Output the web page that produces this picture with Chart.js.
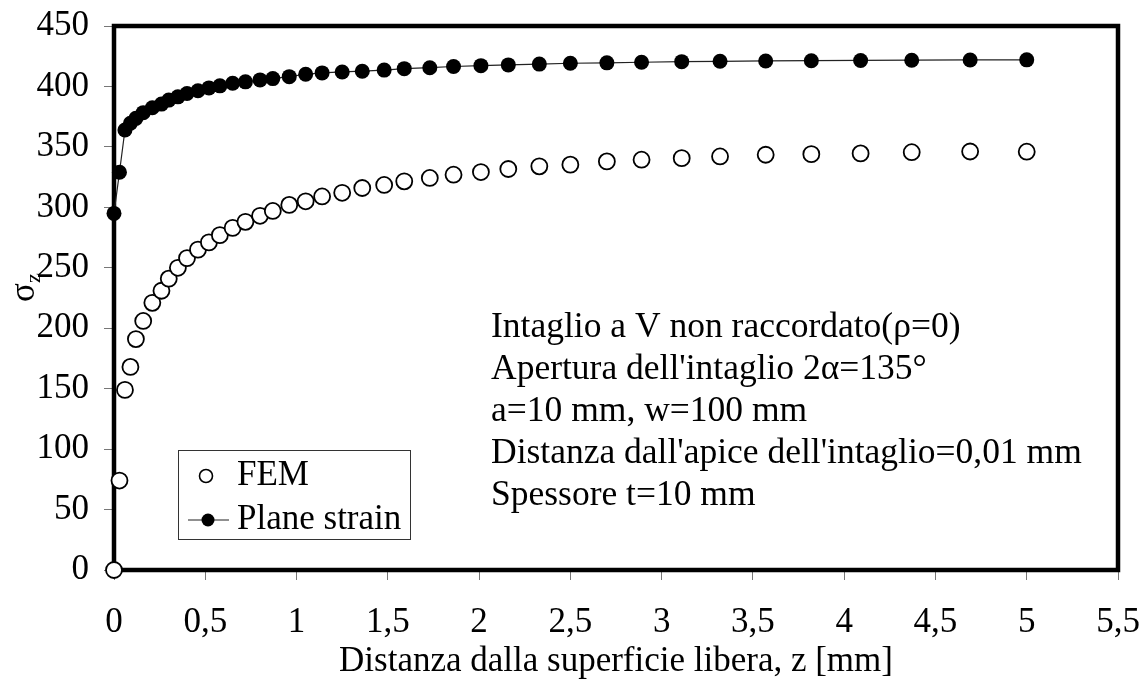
<!DOCTYPE html>
<html>
<head>
<meta charset="utf-8">
<script src="https://cdn.jsdelivr.net/npm/chart.js@4.4.1/dist/chart.umd.min.js"></script>
<style>
  html, body { margin: 0; padding: 0; background: #fff; }
  #wrap { width: 1142px; height: 679px; }
</style>
</head>
<body>
<div id="wrap"><canvas id="chart" width="1142" height="679"></canvas></div>
<script>
// Distance from the free surface, z [mm] (FEM mesh nodes, shared by both series)
const depth = [
    0, 0.03, 0.06, 0.09, 0.12, 0.16, 0.21, 0.26, 0.30, 0.35,
    0.40, 0.46, 0.52, 0.58, 0.65, 0.72, 0.80, 0.87, 0.96, 1.05,
    1.14, 1.25, 1.36, 1.48, 1.59, 1.73, 1.86, 2.01, 2.16, 2.33,
    2.50, 2.70, 2.89, 3.11, 3.32, 3.57, 3.82, 4.09, 4.37, 4.69, 5.00
];

// sigma_z from the 3D FEM model
const fem = [
    0, 74, 149, 168, 191, 206, 221, 231, 241, 250,
    258, 265, 271, 277, 283, 288, 293, 297, 302, 305,
    309, 312, 316, 318.5, 321.5, 324.3, 327, 329.2, 331.7, 333.9,
    335.3, 338, 339.4, 340.7, 342.1, 343.5, 344, 344.6, 345.6, 346.2, 346
];

// sigma_z under plane strain
const planeStrain = [
    295, 329, 364, 369.5, 373.6, 378.3, 382.4, 385.4, 388.7, 391.4,
    394.2, 396.4, 398.8, 400.5, 402.7, 403.8, 405.4, 406.5, 408.1, 410.1,
    411.2, 412, 412.6, 413.5, 414.7, 415.5, 416.5, 417.2, 417.8, 418.5,
    419.2, 419.5, 420, 420.5, 420.8, 421.1, 421.3, 421.5, 421.7, 421.9, 422
];

const seriesNames = ['FEM', 'Plane strain'];

const noteLines = [
    'Intaglio a V non raccordato(\u03C1=0)',
    'Apertura dell\'intaglio 2\u03B1=135\u00B0',
    'a=10 mm, w=100 mm',
    'Distanza dall\'apice dell\'intaglio=0,01 mm',
    'Spessore t=10 mm'
];

const xTitle = 'Distanza dalla superficie libera, z [mm]';

const FONT = '"Liberation Serif", "Times New Roman", serif';
const FS = 35;

Chart.defaults.font.family = FONT;
Chart.defaults.font.size = FS;
Chart.defaults.color = '#000';

function toPoints(xs, ys) {
    return xs.map((x, i) => ({ x: x, y: ys[i] }));
}

/* thick black box round the plot area, drawn under the markers */
const framePlugin = {
    id: 'frame',
    beforeDatasetsDraw(chart) {
        const { ctx, chartArea: a } = chart;
        ctx.save();
        ctx.strokeStyle = '#000';
        ctx.lineWidth = 4.5;
        ctx.strokeRect(a.left, a.top, a.right - a.left, a.bottom - a.top);
        ctx.restore();
    }
};

/* axis titles, legend box and the notes block */
const textPlugin = {
    id: 'texts',
    afterDatasetsDraw(chart) {
        const { ctx, chartArea: a } = chart;
        ctx.save();
        ctx.fillStyle = '#000';
        ctx.font = `${FS}px ${FONT}`;

        // x title
        ctx.textAlign = 'center';
        ctx.textBaseline = 'middle';
        ctx.fillText(xTitle, (a.left + a.right) / 2, 662);

        // y title: sigma with subscript z, rotated
        ctx.save();
        ctx.translate(24, 288);
        ctx.rotate(-Math.PI / 2);
        ctx.textAlign = 'left';
        ctx.textBaseline = 'alphabetic';
        ctx.font = `${FS}px ${FONT}`;
        ctx.fillText('\u03C3', -14, 10);
        ctx.font = `${Math.round(FS * 0.62)}px ${FONT}`;
        ctx.fillText('z', 5, 16);
        ctx.restore();

        // notes
        ctx.font = `35.5px ${FONT}`;
        ctx.textAlign = 'left';
        ctx.textBaseline = 'middle';
        noteLines.forEach((t, i) => ctx.fillText(t, 491, 328 + i * 42));

        // legend
        ctx.strokeStyle = '#333';
        ctx.lineWidth = 1;
        ctx.strokeRect(178.5, 450.5, 232, 89);

        ctx.beginPath();
        ctx.arc(206, 476, 6.5, 0, Math.PI * 2);
        ctx.fillStyle = '#fff';
        ctx.fill();
        ctx.strokeStyle = '#000';
        ctx.lineWidth = 1.6;
        ctx.stroke();

        ctx.beginPath();
        ctx.moveTo(188, 520);
        ctx.lineTo(229, 520);
        ctx.strokeStyle = '#222';
        ctx.lineWidth = 1.2;
        ctx.stroke();
        ctx.beginPath();
        ctx.arc(208, 520, 6.5, 0, Math.PI * 2);
        ctx.fillStyle = '#000';
        ctx.fill();

        ctx.font = `${FS}px ${FONT}`;
        ctx.fillStyle = '#000';
        ctx.fillText(seriesNames[0], 237, 476);
        ctx.fillText(seriesNames[1], 237, 520);
        ctx.restore();
    }
};

const tickGrid = {
    display: true,
    drawOnChartArea: false,
    drawTicks: true,
    tickLength: 10,
    color: '#777',
    lineWidth: 1
};

new Chart(document.getElementById('chart'), {
    type: 'scatter',
    data: {
        datasets: [
            {
                label: seriesNames[0],
                data: toPoints(depth, fem),
                showLine: false,
                pointStyle: 'circle',
                pointRadius: 8,
                pointBackgroundColor: '#fff',
                pointBorderColor: '#000',
                pointBorderWidth: 1.8,
                clip: false
            },
            {
                label: seriesNames[1],
                data: toPoints(depth, planeStrain),
                showLine: true,
                borderColor: '#222',
                borderWidth: 1.2,
                pointStyle: 'circle',
                pointRadius: 7.5,
                pointBackgroundColor: '#000',
                pointBorderColor: '#000',
                pointBorderWidth: 0,
                tension: 0,
                clip: false
            }
        ]
    },
    options: {
        responsive: false,
        animation: false,
        events: [],
        layout: { padding: { top: 26, right: 24, left: 0, bottom: 0 } },
        plugins: {
            legend: { display: false },
            tooltip: { enabled: false }
        },
        scales: {
            x: {
                type: 'linear',
                min: 0,
                max: 5.5,
                ticks: {
                    stepSize: 0.5,
                    autoSkip: false,
                    maxRotation: 0,
                    padding: 22,
                    callback: v => String(v).replace('.', ',')
                },
                grid: tickGrid,
                border: { display: false },
                // fixed band below the plot; edge labels may overhang freely
                afterFit: s => { s.height = 109; s.paddingLeft = 0; s.paddingRight = 0; }
            },
            y: {
                min: 0,
                max: 450,
                ticks: { stepSize: 50, padding: 15 },
                grid: tickGrid,
                border: { display: false },
                afterFit: s => { s.width = 114; s.paddingTop = 0; s.paddingBottom = 0; }
            }
        }
    },
    plugins: [framePlugin, textPlugin]
});
</script>
</body>
</html>
